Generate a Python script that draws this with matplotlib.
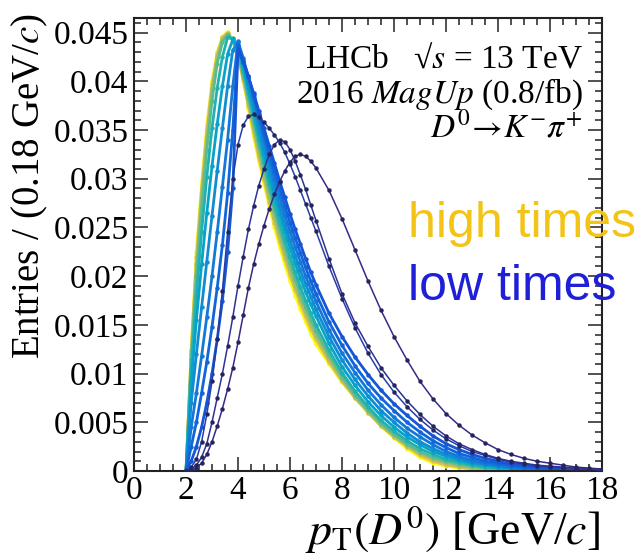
import matplotlib
matplotlib.use("Agg")
import matplotlib.pyplot as plt
from matplotlib.colors import LinearSegmentedColormap
from matplotlib.ticker import MultipleLocator, FuncFormatter

# pT grid (GeV/c)
PT = [2.0, 2.2, 2.4, 2.6, 2.8, 3.0, 3.2, 3.4, 3.6, 3.8, 4.0, 4.2, 4.4, 4.6, 4.8,
      5.0, 5.2, 5.4, 5.6, 5.8, 6.0, 6.2, 6.4, 6.6, 6.8, 7.0, 7.5, 8.0, 8.5, 9.0,
      9.5, 10.0, 10.5, 11.0, 11.5, 12.0, 12.5, 13.0, 13.5, 14.0, 14.5, 15.0,
      15.5, 16.0, 16.5, 17.0, 17.5, 18.0]

# normalised pT spectra, lowest decay-time slice first
slice00 = [0, 0.0001, 0.0003, 0.0008, 0.0017, 0.0030, 0.0046, 0.0064, 0.0084, 0.0106, 0.0132,
           0.0160, 0.0188, 0.0212, 0.0233, 0.0252, 0.0269, 0.0284, 0.0297, 0.0308, 0.0317,
           0.0323, 0.0325, 0.0323, 0.0318, 0.0311, 0.0288, 0.0259, 0.0227, 0.0195, 0.0165,
           0.0138, 0.0114, 0.0092, 0.0074, 0.0059, 0.0047, 0.0037, 0.0029, 0.0022, 0.0017,
           0.0013, 0.0010, 0.0008, 0.0006, 0.0004, 0.0003, 0.0002]
slice01 = [0, 0.0002, 0.0006, 0.0014, 0.0028, 0.0050, 0.0075, 0.0100, 0.0128, 0.0158, 0.0190,
           0.0220, 0.0248, 0.0272, 0.0293, 0.0310, 0.0325, 0.0335, 0.0340, 0.0338, 0.0330,
           0.0318, 0.0304, 0.0289, 0.0273, 0.0257, 0.0218, 0.0182, 0.0152, 0.0128, 0.0106,
           0.0088, 0.0072, 0.0058, 0.0046, 0.0036, 0.0028, 0.0022, 0.0017, 0.0013, 0.0010,
           0.0008, 0.0006, 0.0005, 0.0004, 0.0003, 0.0002, 0.0002]
slice02 = [0, 0.0004, 0.0012, 0.0030, 0.0058, 0.0092, 0.0135, 0.0185, 0.0245, 0.0300, 0.0335,
           0.0355, 0.0364, 0.0366, 0.0363, 0.0358, 0.0352, 0.0345, 0.0337, 0.0327, 0.0315,
           0.0302, 0.0288, 0.0274, 0.0260, 0.0246, 0.0210, 0.0177, 0.0147, 0.0121, 0.0099,
           0.0081, 0.0066, 0.0053, 0.0042, 0.0033, 0.0026, 0.0020, 0.0016, 0.0012, 0.0009,
           0.0007, 0.0005, 0.0004, 0.0003, 0.0002, 0.0002, 0.0001]
slice03 = [0, 0.0010, 0.0025, 0.0045, 0.0070, 0.0100, 0.0135, 0.0175, 0.0225, 0.0290, 0.0432,
           0.0420, 0.0405, 0.0388, 0.0370, 0.0352, 0.0334, 0.0316, 0.0298, 0.0281, 0.0264,
           0.0248, 0.0233, 0.0218, 0.0204, 0.0191, 0.0162, 0.0138, 0.0117, 0.0099, 0.0083,
           0.0069, 0.0057, 0.0046, 0.0036, 0.0028, 0.0022, 0.0017, 0.0013, 0.0010, 0.0007,
           0.0006, 0.0004, 0.0003, 0.0002, 0.0002, 0.0001, 0.0001]
slice04 = [0, 0.0025, 0.0050, 0.0080, 0.0112, 0.0148, 0.0188, 0.0232, 0.0285, 0.0350, 0.0437,
           0.0422, 0.0405, 0.0386, 0.0366, 0.0346, 0.0327, 0.0308, 0.0290, 0.0272, 0.0255,
           0.0239, 0.0224, 0.0209, 0.0195, 0.0182, 0.0153, 0.0129, 0.0108, 0.0090, 0.0075,
           0.0062, 0.0050, 0.0040, 0.0031, 0.0024, 0.0018, 0.0014, 0.0010, 0.0008, 0.0006,
           0.0004, 0.0003, 0.0002, 0.0002, 0.0001, 0.0001, 0.0001]
slice05 = [0, 0.0045, 0.0080, 0.0118, 0.0158, 0.0200, 0.0245, 0.0292, 0.0340, 0.0395, 0.0441,
           0.0424, 0.0404, 0.0383, 0.0362, 0.0341, 0.0320, 0.0300, 0.0281, 0.0263, 0.0246,
           0.0230, 0.0215, 0.0200, 0.0187, 0.0174, 0.0145, 0.0121, 0.0101, 0.0083, 0.0068,
           0.0055, 0.0044, 0.0035, 0.0027, 0.0020, 0.0015, 0.0011, 0.0008, 0.0006, 0.0004,
           0.0003, 0.0002, 0.0002, 0.0001, 0.0001, 0.0001, 0.0]
slice06 = [0, 0.0070, 0.0120, 0.0168, 0.0215, 0.0262, 0.0308, 0.0352, 0.0395, 0.0432, 0.0440,
           0.0420, 0.0398, 0.0376, 0.0354, 0.0332, 0.0311, 0.0291, 0.0272, 0.0254, 0.0237,
           0.0221, 0.0206, 0.0192, 0.0179, 0.0166, 0.0138, 0.0114, 0.0094, 0.0077, 0.0062,
           0.0050, 0.0039, 0.0030, 0.0023, 0.0017, 0.0013, 0.0009, 0.0007, 0.0005, 0.0003,
           0.0002, 0.0002, 0.0001, 0.0001, 0.0001, 0.0, 0.0]
slice07 = [0, 0.0090, 0.0155, 0.0212, 0.0265, 0.0313, 0.0356, 0.0395, 0.0428, 0.0443, 0.0435,
           0.0415, 0.0393, 0.0370, 0.0347, 0.0325, 0.0303, 0.0283, 0.0264, 0.0246, 0.0229,
           0.0213, 0.0198, 0.0184, 0.0171, 0.0159, 0.0131, 0.0107, 0.0088, 0.0071, 0.0057,
           0.0045, 0.0035, 0.0027, 0.0020, 0.0015, 0.0011, 0.0008, 0.0006, 0.0004, 0.0003,
           0.0002, 0.0001, 0.0001, 0.0001, 0.0, 0.0, 0.0]
slice08 = [0, 0.0105, 0.0180, 0.0245, 0.0302, 0.0352, 0.0393, 0.0425, 0.0445, 0.0444, 0.0431,
           0.0411, 0.0388, 0.0364, 0.0340, 0.0317, 0.0295, 0.0274, 0.0255, 0.0237, 0.0220,
           0.0204, 0.0189, 0.0175, 0.0162, 0.0150, 0.0124, 0.0101, 0.0082, 0.0066, 0.0052,
           0.0041, 0.0031, 0.0023, 0.0017, 0.0012, 0.0009, 0.0006, 0.0004, 0.0003, 0.0002,
           0.0001, 0.0001, 0.0001, 0.0, 0.0, 0.0, 0.0]
slice09 = [0, 0.0115, 0.0200, 0.0270, 0.0330, 0.0380, 0.0418, 0.0440, 0.0448, 0.0442, 0.0428,
           0.0407, 0.0383, 0.0358, 0.0334, 0.0311, 0.0289, 0.0268, 0.0248, 0.0230, 0.0213,
           0.0197, 0.0182, 0.0168, 0.0156, 0.0144, 0.0119, 0.0097, 0.0078, 0.0063, 0.0049,
           0.0038, 0.0028, 0.0020, 0.0014, 0.0010, 0.0007, 0.0005, 0.0003, 0.0002, 0.0001,
           0.0001, 0.0, 0.0, 0.0, 0.0, 0.0, 0.0]
slice10 = [0, 0.0120, 0.0212, 0.0283, 0.0343, 0.0392, 0.0425, 0.0443, 0.0449, 0.0442, 0.0426,
           0.0404, 0.0378, 0.0352, 0.0327, 0.0303, 0.0281, 0.0260, 0.0241, 0.0223, 0.0206,
           0.0190, 0.0176, 0.0163, 0.0150, 0.0139, 0.0115, 0.0094, 0.0076, 0.0061, 0.0047,
           0.0036, 0.0026, 0.0018, 0.0012, 0.0008, 0.0005, 0.0003, 0.0002, 0.0001, 0.0,
           0.0, 0.0, 0.0, 0.0, 0.0, 0.0, 0.0]
slice11 = [0, 0.0123, 0.0220, 0.0290, 0.0350, 0.0397, 0.0428, 0.0445, 0.0450, 0.0442, 0.0425,
           0.0402, 0.0375, 0.0348, 0.0322, 0.0299, 0.0276, 0.0255, 0.0236, 0.0218, 0.0201,
           0.0186, 0.0172, 0.0158, 0.0146, 0.0135, 0.0112, 0.0092, 0.0075, 0.0060, 0.0046,
           0.0035, 0.0025, 0.0016, 0.0010, 0.0006, 0.0004, 0.0002, 0.0001, 0.0001, 0.0,
           0.0, 0.0, 0.0, 0.0, 0.0, 0.0, 0.0]
slice12 = [0, 0.0125, 0.0225, 0.0295, 0.0355, 0.0400, 0.0430, 0.0446, 0.0451, 0.0443, 0.0425,
           0.0400, 0.0372, 0.0343, 0.0318, 0.0295, 0.0272, 0.0250, 0.0230, 0.0212, 0.0195,
           0.0180, 0.0166, 0.0153, 0.0141, 0.0130, 0.0110, 0.0091, 0.0075, 0.0060, 0.0046,
           0.0034, 0.0023, 0.0014, 0.0008, 0.0005, 0.0003, 0.0002, 0.0001, 0.0001, 0.0,
           0.0, 0.0, 0.0, 0.0, 0.0, 0.0, 0.0]

SLICES = [slice00, slice01, slice02, slice03, slice04, slice05, slice06,
          slice07, slice08, slice09, slice10, slice11, slice12]
# position of each slice on the low -> high decay-time palette
SLICE_POS = [0.0, 0.02, 0.05, 0.11, 0.16, 0.22, 0.29, 0.37, 0.46, 0.56, 0.67, 0.80, 1.0]

# ROOT kBird palette
stops = [0.0, 0.125, 0.25, 0.375, 0.5, 0.625, 0.75, 0.875, 1.0]
red = [0.2082, 0.0592, 0.0780, 0.0232, 0.1802, 0.5301, 0.8186, 0.9956, 0.9764]
green = [0.1664, 0.3599, 0.5041, 0.6419, 0.7178, 0.7492, 0.7328, 0.7862, 0.9832]
blue = [0.5293, 0.8684, 0.8385, 0.7914, 0.6425, 0.4662, 0.3499, 0.1968, 0.0539]
bird = LinearSegmentedColormap.from_list(
    "bird", [(s, (r, g, b)) for s, r, g, b in zip(stops, red, green, blue)])

plt.rcParams["font.family"] = ["Liberation Serif", "DejaVu Serif"]
plt.rcParams["mathtext.fontset"] = "stix"

fig = plt.figure(figsize=(6.44, 5.58), dpi=100)
ax = fig.add_axes([134 / 644, 1 - 471 / 558, 468 / 644, 453 / 558])

# high times first so the low-time curves sit on top
for vals, pos in reversed(list(zip(SLICES, SLICE_POS))):
    c = bird(pos)
    if pos < 0.1:
        ax.plot(PT, vals, "-o", color=c, lw=1.1, ms=3.2, mew=0,
                mfc="#24245e", zorder=3)
    else:
        ax.plot(PT, vals, "-o", color=c, lw=2.0, ms=3.2, mew=0, zorder=2)

ax.set_xlim(0, 18)
ax.set_ylim(0, 0.0465)
ax.xaxis.set_major_locator(MultipleLocator(2))
ax.xaxis.set_minor_locator(MultipleLocator(0.5))
ax.yaxis.set_major_locator(MultipleLocator(0.005))
ax.yaxis.set_minor_locator(MultipleLocator(0.001))
ax.yaxis.set_major_formatter(FuncFormatter(lambda v, p: "%g" % round(v, 4)))
ax.tick_params(which="both", direction="in", top=True, right=True,
               labelsize=24, color="#222222", width=1.1)
ax.tick_params(which="major", length=10)
ax.tick_params(which="minor", length=5)
ax.tick_params(axis="x", pad=3)
ax.tick_params(axis="y", pad=4)
for s in ax.spines.values():
    s.set_linewidth(1.5)
    s.set_color("#222222")

fig.text(30 / 644, 1 - 186 / 558, "Entries / (0.18 GeV/$c$)", rotation=90,
         ha="center", va="center", fontsize=28)
fig.text(600 / 644, 1 - 545 / 558, r"$p_{\mathrm{T}}(D^{0})$ [GeV/$c$]",
         ha="right", va="baseline", fontsize=33)

fig.text(583 / 644, 1 - 68 / 558, "LHCb   \u221a$s$ = 13 TeV",
         ha="right", va="baseline", fontsize=24)
fig.text(583 / 644, 1 - 103 / 558, r"2016 $MagUp$ (0.8/fb)",
         ha="right", va="baseline", fontsize=24)
fig.text(583 / 644, 1 - 137 / 558, r"$D^{0}\!\rightarrow\! K^{-}\pi^{+}$",
         ha="right", va="baseline", fontsize=24)

fig.text(408 / 644, 1 - 237 / 558, "high times", color="#f3c416",
         family="Liberation Sans", fontsize=36, ha="left", va="baseline", zorder=5)
fig.text(408 / 644, 1 - 300 / 558, "low times", color="#1f1fd9",
         family="Liberation Sans", fontsize=36, ha="left", va="baseline", zorder=5)

fig.savefig("out.png", dpi=100)
